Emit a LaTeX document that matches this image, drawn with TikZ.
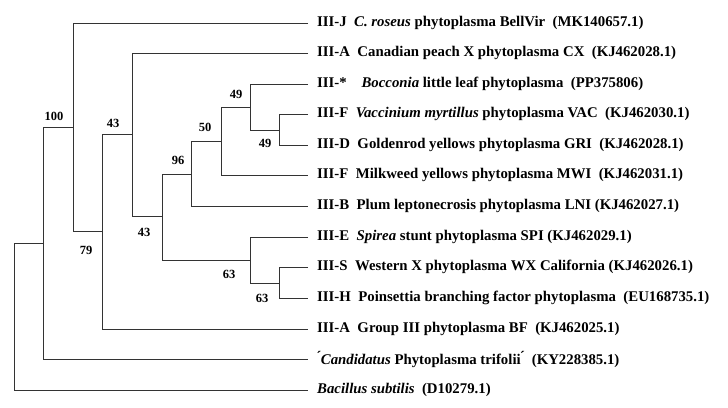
\documentclass[tikz,border=0pt]{standalone}
\usepackage{fontspec}
\setmainfont{Liberation Serif}
\begin{document}
\begin{tikzpicture}[x=1pt,y=-1pt,
  br/.style={line width=0.9pt,draw=black!80},
  lf/.style={anchor=west,inner sep=0pt,font=\fontsize{14.8}{16}\selectfont\bfseries},
  bs/.style={inner sep=0pt,font=\fontsize{12.5}{14}\selectfont\bfseries}]
\useasboundingbox (0,0) rectangle (728,407);
\foreach \n/\x/\y in {R/14/316,A/43/243,B/73/127,C/102/231,D/132/134,E/162/216,F/191/174,G/221/141,H/250/107,I/279/130,J/250/260,K/279/283}
  \coordinate (\n) at (\x,\y);
\def\tipx{308}
\foreach \n/\y in {1/23,2/53,3/84,4/114,5/145,6/175,7/206,8/237,9/267,10/298,11/329,12/359,13/390}
  \coordinate (t\n) at (\tipx,\y);
\foreach \p/\a/\b in {R/A/t13,A/B/t12,B/t1/C,C/D/t11,D/t2/E,E/F/J,F/G/t7,G/H/t6,H/t3/I,I/t4/t5,J/t8/K,K/t9/t10}{
  \draw[br] (\a) -- (\p |- \a) -- (\p |- \b) -- (\b);
}
\node[bs] (b1) at (54,116) {100};
\node[bs] (b2) at (113,123) {43};
\node[bs] (b3) at (86,250) {79};
\node[bs] (b4) at (144,232) {43};
\node[bs] (b5) at (178,160) {96};
\node[bs] (b6) at (205,127) {50};
\node[bs] (b7) at (236,94) {49};
\node[bs] (b8) at (265,143) {49};
\node[bs] (b9) at (229,274) {63};
\node[bs] (b10) at (262,298) {63};
\node[lf] (l1) at (317,23) {III-J\ \ \textit{C. roseus} phytoplasma BellVir\ \ (MK140657.1)};
\node[lf] (l2) at (317,53) {III-A\ \ Canadian peach X phytoplasma CX\ \ (KJ462028.1)};
\node[lf] (l3) at (317,84) {III-*\ \ \ \ \textit{Bocconia} little leaf phytoplasma\ \ (PP375806)};
\node[lf] (l4) at (317,114) {III-F\ \ \textit{Vaccinium myrtillus} phytoplasma VAC\ \ (KJ462030.1)};
\node[lf] (l5) at (317,145) {III-D\ \ Goldenrod yellows phytoplasma GRI\ \ (KJ462028.1)};
\node[lf] (l6) at (317,175) {III-F\ \ Milkweed yellows phytoplasma MWI\ \ (KJ462031.1)};
\node[lf] (l7) at (317,206) {III-B\ \ Plum leptonecrosis phytoplasma LNI (KJ462027.1)};
\node[lf] (l8) at (317,237) {III-E\ \ \textit{Spirea} stunt phytoplasma SPI (KJ462029.1)};
\node[lf] (l9) at (317,267) {III-S\ \ Western X phytoplasma WX California (KJ462026.1)};
\node[lf] (l10) at (317,298) {III-H\ \ Poinsettia branching factor phytoplasma\ \ (EU168735.1)};
\node[lf] (l11) at (317,329) {III-A\ \ Group III phytoplasma BF\ \ (KJ462025.1)};
\node[lf] (l12) at (317,359) {\'{}\textit{Candidatus} Phytoplasma trifolii\'{}\ \ (KY228385.1)};
\node[lf] (l13) at (317,390) {\textit{Bacillus subtilis}\ \ (D10279.1)};
\end{tikzpicture}
\end{document}
